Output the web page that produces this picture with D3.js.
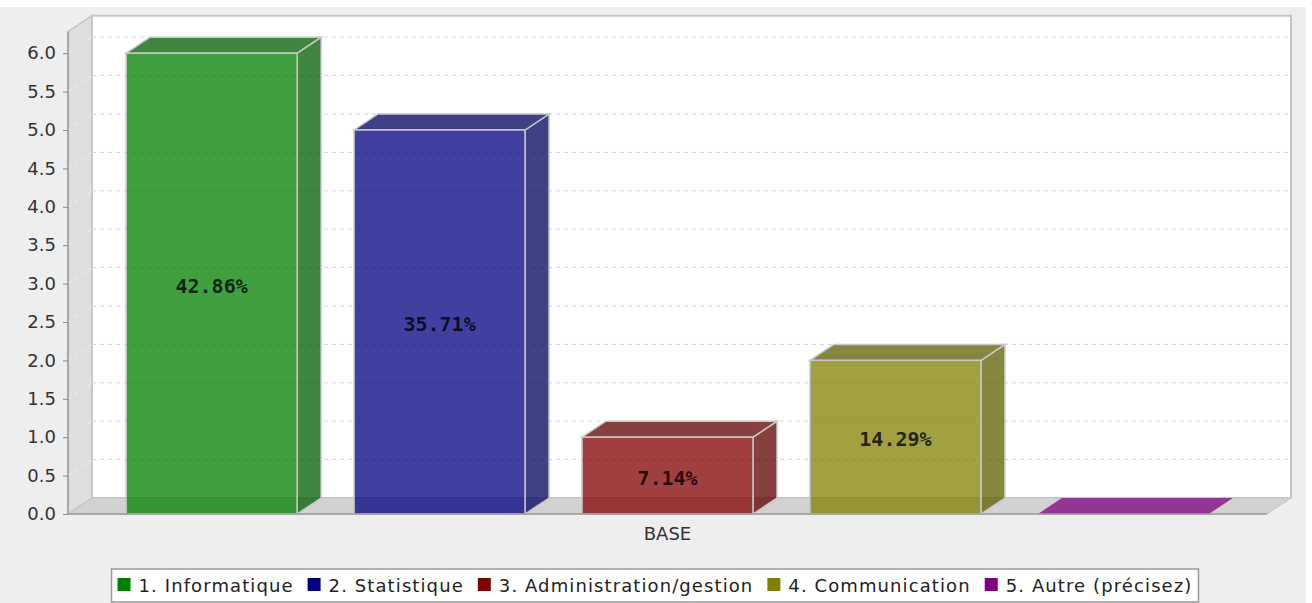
<!DOCTYPE html>
<html>
<head>
<meta charset="utf-8">
<script src="https://cdn.jsdelivr.net/npm/d3@7"></script>
<style>
  body { margin: 0; background: #ffffff; }
  svg { display: block; font-family: "DejaVu Sans", sans-serif; }
</style>
</head>
<body>
<div id="content"></div>
<script>
var w = 1312;
var h = 603;

// data
var categories = ["BASE"];
var seriesNames = ["1. Informatique", "2. Statistique", "3. Administration/gestion", "4. Communication", "5. Autre (précisez)"];
var seriesValues = [6, 5, 1, 2, 0];
var seriesLabels = ["42.86%", "35.71%", "7.14%", "14.29%", "0%"];
var seriesColors = ["#008000", "#000080", "#800000", "#808000", "#800080"];
var yTicks = [0, 0.5, 1, 1.5, 2, 2.5, 3, 3.5, 4, 4.5, 5, 5.5, 6];

// 3d depth offsets
var dx = 24, dy = 16;
var left = 68, right = 1267, bottom = 514;

var svg = d3.select("#content").append("svg")
    .attr("width", w)
    .attr("height", h);

// grey chart background
svg.append("rect").attr("x", 0).attr("y", 7).attr("width", 1306).attr("height", h - 7).attr("fill", "#eeeeee");

var y = d3.scaleLinear().domain([0, 6.28]).range([bottom, bottom - 6.28 * 76.8]);
var x = d3.scaleBand().domain(seriesNames).range([left, right]).paddingInner(0.25).paddingOuter(0.255);
var xCat = d3.scaleBand().domain(categories).range([left, right]);

var yTop = y(6.28);

// back wall
svg.append("rect")
    .attr("x", left + dx).attr("y", yTop - dy)
    .attr("width", right - left).attr("height", bottom - yTop)
    .attr("fill", "#ffffff").attr("stroke", "#c4c4c4").attr("stroke-width", 2);

// left wall
svg.append("polygon")
    .attr("points", [[left, yTop], [left + dx, yTop - dy], [left + dx, bottom - dy], [left, bottom]].join(" "))
    .attr("fill", "#dedede").attr("stroke", "#c4c4c4").attr("stroke-width", 1.5);

// floor
svg.append("polygon")
    .attr("points", [[left, bottom], [left + dx, bottom - dy], [right + dx, bottom - dy], [right, bottom]].join(" "))
    .attr("fill", "#d2d2d2").attr("stroke", "#c4c4c4").attr("stroke-width", 1);

// gridlines on back wall and left wall
var grid = svg.append("g");
grid.selectAll("line.back")
    .data(yTicks.filter(d => d > 0))
    .enter().append("line")
    .attr("class", "back")
    .attr("x1", left + dx).attr("x2", right + dx)
    .attr("y1", d => y(d) - dy).attr("y2", d => y(d) - dy)
    .attr("stroke", "#d4d4d4").attr("stroke-dasharray", "4,4");
grid.selectAll("line.side")
    .data(yTicks.filter(d => d > 0))
    .enter().append("line")
    .attr("class", "side")
    .attr("x1", left).attr("x2", left + dx)
    .attr("y1", d => y(d)).attr("y2", d => y(d) - dy)
    .attr("stroke", "#eeeeee").attr("stroke-dasharray", "4,4");

// bars
var bars = svg.append("g").selectAll("g")
    .data(seriesValues.map((v, i) => ({ name: seriesNames[i], value: v, label: seriesLabels[i], color: seriesColors[i] })))
    .enter().append("g");

bars.each(function (d) {
    var g = d3.select(this);
    var x0 = x(d.name), x1 = x0 + x.bandwidth(), yt = y(d.value);
    var dark = d3.color(d.color).darker(0.9);
    if (d.value > 0) {
        g.append("polygon")
            .attr("points", [[x1, yt], [x1 + dx, yt - dy], [x1 + dx, bottom - dy], [x1, bottom]].join(" "))
            .attr("fill", dark).attr("fill-opacity", 0.75)
            .attr("stroke", "#c8c8c8").attr("stroke-width", 1.5);
    }
    g.append("polygon")
        .attr("points", [[x0, yt], [x0 + dx, yt - dy], [x1 + dx, yt - dy], [x1, yt]].join(" "))
        .attr("fill", d.value > 0 ? dark : d.color).attr("fill-opacity", 0.75)
        .attr("stroke", d.value > 0 ? "#c8c8c8" : "none").attr("stroke-width", 1.5);
    if (d.value > 0) {
        g.append("rect")
            .attr("x", x0).attr("y", yt)
            .attr("width", x.bandwidth()).attr("height", bottom - yt)
            .attr("fill", d.color).attr("fill-opacity", 0.75)
            .attr("stroke", "#c8c8c8").attr("stroke-width", 1.5);
        g.append("text")
            .attr("x", x0 + x.bandwidth() / 2)
            .attr("y", y(d.value / 2) + 2)
            .attr("text-anchor", "middle")
            .attr("dominant-baseline", "central")
            .style("font-family", "'DejaVu Sans Mono', monospace")
            .style("font-weight", "bold")
            .style("font-size", "20px")
            .attr("fill", "#000").attr("fill-opacity", 0.8)
            .text(d.label);
    }
});

// axis lines
svg.append("line").attr("x1", left).attr("x2", left).attr("y1", yTop).attr("y2", bottom)
    .attr("stroke", "#9a9a9a").attr("stroke-width", 1.5);
svg.append("line").attr("x1", left).attr("x2", right).attr("y1", bottom).attr("y2", bottom)
    .attr("stroke", "#9a9a9a").attr("stroke-width", 1.5);

// y axis
var yAxis = svg.append("g")
    .attr("transform", "translate(" + left + ",0)")
    .call(d3.axisLeft(y).tickValues(yTicks).tickFormat(d3.format(".1f")).tickSize(5).tickPadding(7));
yAxis.select(".domain").remove();
yAxis.selectAll(".tick line").attr("stroke", "#888");
yAxis.selectAll(".tick text")
    .attr("fill", "#333")
    .style("font-size", "18px")
    .style("font-family", "'DejaVu Sans', sans-serif");

// category axis
var xAxis = svg.append("g")
    .attr("transform", "translate(0," + bottom + ")")
    .call(d3.axisBottom(xCat).tickSize(0).tickPadding(13));
xAxis.select(".domain").remove();
xAxis.selectAll(".tick text")
    .attr("fill", "#333")
    .style("font-size", "18px")
    .style("font-family", "'DejaVu Sans', sans-serif");

// legend
var legend = svg.append("g");
var box = legend.append("rect").attr("fill", "#ffffff").attr("stroke", "#999").attr("stroke-width", 1.5);
var items = legend.selectAll("g.item")
    .data(seriesNames)
    .enter().append("g").attr("class", "item");
items.append("rect").attr("width", 13).attr("height", 13).attr("y", -7)
    .attr("fill", (d, i) => seriesColors[i]);
items.append("text")
    .attr("x", 21)
    .attr("dominant-baseline", "central")
    .attr("fill", "#222")
    .style("font-size", "18px")
    .style("letter-spacing", "1.1px")
    .text(d => d);

var pos = 0;
items.each(function () {
    var tw = d3.select(this).select("text").node().getComputedTextLength();
    d3.select(this).attr("transform", "translate(" + pos + ",0)");
    pos += 21 + tw + 14;
});
var legW = pos - 14 + 12;
var legX = 655 - legW / 2;
legend.attr("transform", "translate(" + (legX + 6) + ",585)");
box.attr("x", -6).attr("y", -16).attr("width", legW).attr("height", 33);
</script>
</body>
</html>
